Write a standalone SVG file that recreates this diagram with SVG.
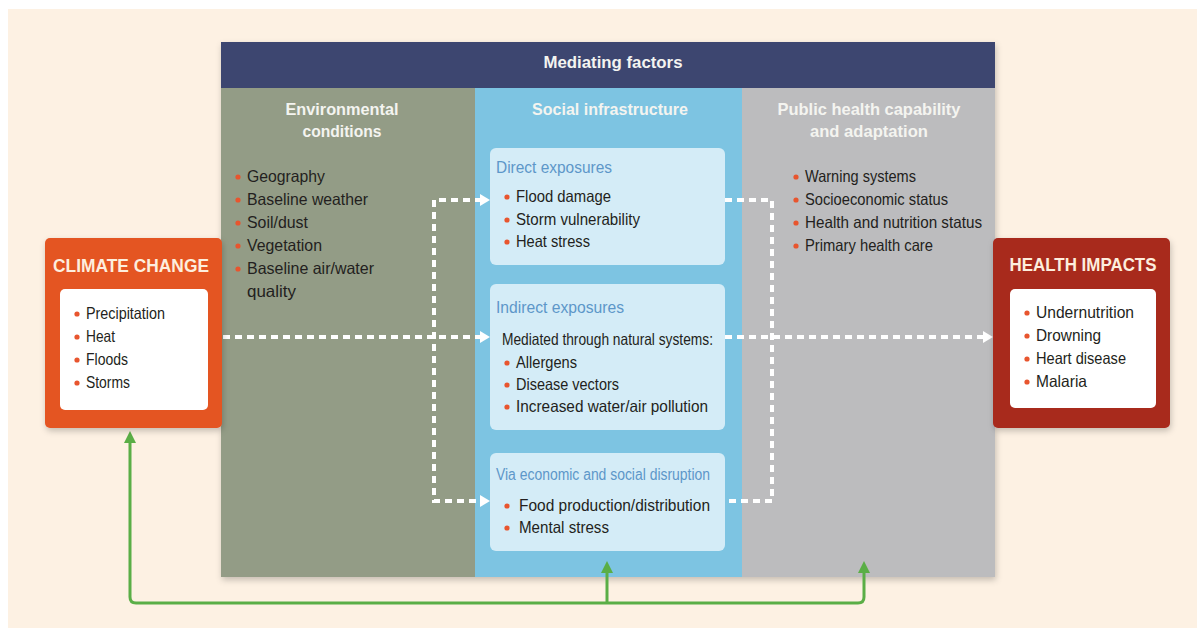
<svg xmlns="http://www.w3.org/2000/svg" width="1197" height="630" viewBox="0 0 1197 630">
<style>
text{font-family:"Liberation Sans",Arial,sans-serif}
.body{font-size:16.5px;fill:#231f20}
.hd{font-size:17px;font-weight:bold;fill:#f4f4f0;text-anchor:middle}
.ttl{font-size:18.5px;font-weight:bold;fill:#fdeede;text-anchor:middle}
.sub{font-size:16px;fill:#5d97c9}
.bul{fill:#e8552e}
.dash{fill:none;stroke:#ffffff;stroke-width:4;stroke-dasharray:7 5}
.grn{fill:none;stroke:#5aae46;stroke-width:3}
</style>
<defs>
<filter id="sh" x="-10%" y="-10%" width="120%" height="120%">
<feDropShadow dx="1" dy="3" stdDeviation="3" flood-color="#000" flood-opacity="0.22"/>
</filter>
<marker id="wa" markerUnits="userSpaceOnUse" markerWidth="10" markerHeight="12" refX="2" refY="6" orient="auto-start-reverse">
<path d="M0,0 L10,6 L0,12 z" fill="#ffffff"/>
</marker>
<marker id="ga" markerUnits="userSpaceOnUse" markerWidth="12" markerHeight="12" refX="3" refY="6" orient="auto">
<path d="M0,0 L12,6 L0,12 z" fill="#5aae46"/>
</marker>
</defs>
<rect x="0" y="0" width="1197" height="630" fill="#ffffff"/>
<rect x="8" y="9" width="1189" height="619" fill="#fdf1e3"/>

<g id="mediating-factors">
<rect x="221" y="42" width="774" height="535" fill="#939c86" filter="url(#sh)"/>
<rect x="221" y="42" width="774" height="46" fill="#3d4670"/>
<text class="hd" x="613" y="68" textLength="139" lengthAdjust="spacingAndGlyphs">Mediating factors</text>
</g>

<g id="environmental">
<rect x="221" y="88" width="254" height="489" fill="#939c86"/>
<text class="hd" x="342" y="115" textLength="113" lengthAdjust="spacingAndGlyphs">Environmental</text>
<text class="hd" x="342" y="137" textLength="79" lengthAdjust="spacingAndGlyphs">conditions</text>
<circle class="bul" cx="238" cy="177" r="2.6"/><text class="body" x="247" y="182" textLength="78" lengthAdjust="spacingAndGlyphs">Geography</text>
<circle class="bul" cx="238" cy="200" r="2.6"/><text class="body" x="247" y="205" textLength="121" lengthAdjust="spacingAndGlyphs">Baseline weather</text>
<circle class="bul" cx="238" cy="223" r="2.6"/><text class="body" x="247" y="228" textLength="61" lengthAdjust="spacingAndGlyphs">Soil/dust</text>
<circle class="bul" cx="238" cy="246" r="2.6"/><text class="body" x="247" y="251" textLength="75" lengthAdjust="spacingAndGlyphs">Vegetation</text>
<circle class="bul" cx="238" cy="269" r="2.6"/><text class="body" x="247" y="274" textLength="127" lengthAdjust="spacingAndGlyphs">Baseline air/water</text>
<text class="body" x="247" y="297" textLength="49" lengthAdjust="spacingAndGlyphs">quality</text>
</g>

<g id="social-infrastructure">
<rect x="475" y="88" width="267" height="489" fill="#7dc4e2"/>
<text class="hd" x="610" y="115" textLength="156" lengthAdjust="spacingAndGlyphs">Social infrastructure</text>
</g>

<g id="public-health">
<rect x="742" y="88" width="253" height="489" fill="#bcbcbe"/>
<text class="hd" x="869" y="115" textLength="183" lengthAdjust="spacingAndGlyphs">Public health capability</text>
<text class="hd" x="869" y="137" textLength="118" lengthAdjust="spacingAndGlyphs">and adaptation</text>
<circle class="bul" cx="796" cy="177" r="2.6"/><text class="body" x="805" y="182" textLength="111" lengthAdjust="spacingAndGlyphs">Warning systems</text>
<circle class="bul" cx="796" cy="200" r="2.6"/><text class="body" x="805" y="205" textLength="143" lengthAdjust="spacingAndGlyphs">Socioeconomic status</text>
<circle class="bul" cx="796" cy="223" r="2.6"/><text class="body" x="805" y="228" textLength="177" lengthAdjust="spacingAndGlyphs">Health and nutrition status</text>
<circle class="bul" cx="796" cy="246" r="2.6"/><text class="body" x="805" y="251" textLength="128" lengthAdjust="spacingAndGlyphs">Primary health care</text>
</g>

<g id="connectors">
<path class="dash" d="M223 337 H482" marker-end="url(#wa)"/>
<path class="dash" d="M725 337 H985" marker-end="url(#wa)"/>
<path class="dash" d="M482 200 H434 V501 H482" marker-start="url(#wa)" marker-end="url(#wa)"/>
<path class="dash" d="M725 200 H772 V501 H725"/>
<path class="grn" d="M607 603 H858 Q864 603 864 597 V570" marker-end="url(#ga)"/>
<path class="grn" d="M607 603 H136 Q130 603 130 597 V440" marker-end="url(#ga)"/>
<path class="grn" d="M607 603 V570" marker-end="url(#ga)"/>
</g>

<g id="direct-exposures">
<rect x="490" y="148" width="235" height="117" rx="6" fill="#d4ecf7"/>
<text class="sub" x="496" y="173" textLength="116" lengthAdjust="spacingAndGlyphs">Direct exposures</text>
<circle class="bul" cx="507" cy="197" r="2.6"/><text class="body" x="516" y="202" textLength="95" lengthAdjust="spacingAndGlyphs">Flood damage</text>
<circle class="bul" cx="507" cy="220" r="2.6"/><text class="body" x="516" y="225" textLength="124" lengthAdjust="spacingAndGlyphs">Storm vulnerability</text>
<circle class="bul" cx="507" cy="242" r="2.6"/><text class="body" x="516" y="247" textLength="74" lengthAdjust="spacingAndGlyphs">Heat stress</text>
</g>

<g id="indirect-exposures">
<rect x="490" y="284" width="235" height="146" rx="6" fill="#d4ecf7"/>
<text class="sub" x="496" y="313" textLength="128" lengthAdjust="spacingAndGlyphs">Indirect exposures</text>
<text class="body" x="502" y="345" textLength="211" lengthAdjust="spacingAndGlyphs">Mediated through natural systems:</text>
<circle class="bul" cx="507" cy="363" r="2.6"/><text class="body" x="516" y="368" textLength="61" lengthAdjust="spacingAndGlyphs">Allergens</text>
<circle class="bul" cx="507" cy="385" r="2.6"/><text class="body" x="516" y="390" textLength="103" lengthAdjust="spacingAndGlyphs">Disease vectors</text>
<circle class="bul" cx="507" cy="407" r="2.6"/><text class="body" x="516" y="412" textLength="192" lengthAdjust="spacingAndGlyphs">Increased water/air pollution</text>
</g>

<g id="economic-disruption">
<rect x="490" y="453" width="235" height="98" rx="6" fill="#d4ecf7"/>
<text class="sub" x="496" y="480" textLength="214" lengthAdjust="spacingAndGlyphs">Via economic and social disruption</text>
<circle class="bul" cx="507" cy="506" r="2.6"/><text class="body" x="519" y="511" textLength="191" lengthAdjust="spacingAndGlyphs">Food production/distribution</text>
<circle class="bul" cx="507" cy="528" r="2.6"/><text class="body" x="519" y="533" textLength="90" lengthAdjust="spacingAndGlyphs">Mental stress</text>
</g>

<g id="climate-change">
<rect x="45" y="238" width="177" height="190" rx="5" fill="#e45424" filter="url(#sh)"/>
<text class="ttl" x="131" y="272" textLength="156" lengthAdjust="spacingAndGlyphs">CLIMATE CHANGE</text>
<rect x="60" y="289" width="148" height="121" rx="5" fill="#ffffff"/>
<circle class="bul" cx="77" cy="314" r="2.6"/><text class="body" x="86" y="319" textLength="79" lengthAdjust="spacingAndGlyphs">Precipitation</text>
<circle class="bul" cx="77" cy="337" r="2.6"/><text class="body" x="86" y="342" textLength="29" lengthAdjust="spacingAndGlyphs">Heat</text>
<circle class="bul" cx="77" cy="360" r="2.6"/><text class="body" x="86" y="365" textLength="42" lengthAdjust="spacingAndGlyphs">Floods</text>
<circle class="bul" cx="77" cy="383" r="2.6"/><text class="body" x="86" y="388" textLength="44" lengthAdjust="spacingAndGlyphs">Storms</text>
</g>

<g id="health-impacts">
<rect x="993" y="238" width="177" height="190" rx="5" fill="#a8291f" filter="url(#sh)"/>
<text class="ttl" x="1083" y="271" textLength="147" lengthAdjust="spacingAndGlyphs">HEALTH IMPACTS</text>
<rect x="1010" y="289" width="146" height="119" rx="5" fill="#ffffff"/>
<circle class="bul" cx="1027" cy="313" r="2.6"/><text class="body" x="1036" y="318" textLength="98" lengthAdjust="spacingAndGlyphs">Undernutrition</text>
<circle class="bul" cx="1027" cy="336" r="2.6"/><text class="body" x="1036" y="341" textLength="65" lengthAdjust="spacingAndGlyphs">Drowning</text>
<circle class="bul" cx="1027" cy="359" r="2.6"/><text class="body" x="1036" y="364" textLength="90" lengthAdjust="spacingAndGlyphs">Heart disease</text>
<circle class="bul" cx="1027" cy="382" r="2.6"/><text class="body" x="1036" y="387" textLength="51" lengthAdjust="spacingAndGlyphs">Malaria</text>
</g>
</svg>
